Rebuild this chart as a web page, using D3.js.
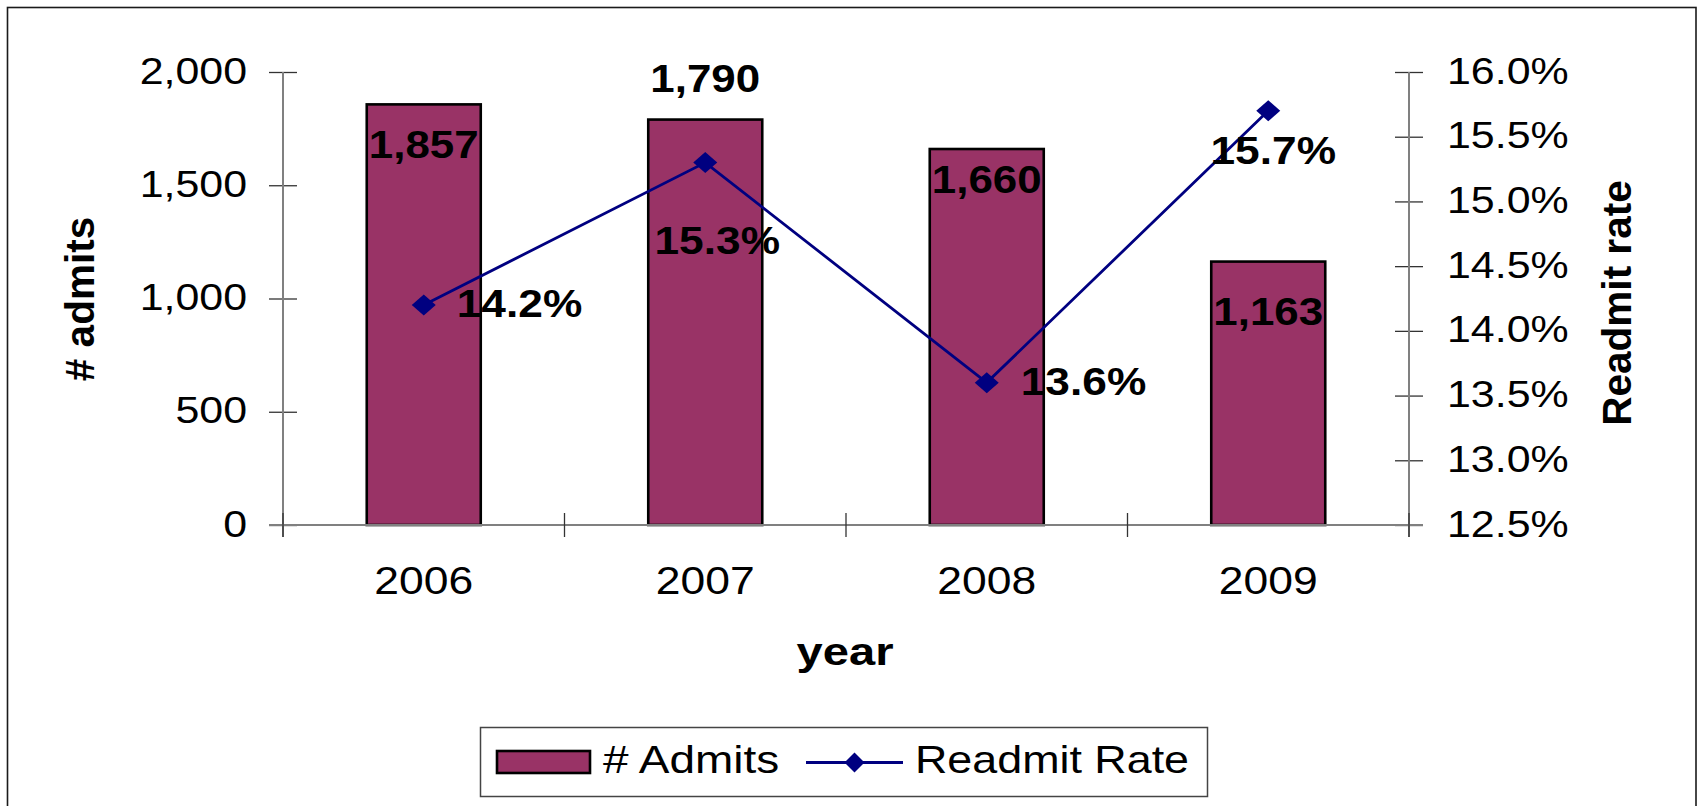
<!DOCTYPE html>
<html>
<head>
<meta charset="utf-8">
<script src="https://cdn.jsdelivr.net/npm/d3@7"></script>
<style>
  html, body { margin: 0; padding: 0; background: #fff; }
  svg { display: block; }
  text { font-family: "Liberation Sans", Arial, Helvetica, sans-serif; fill: #000; }
</style>
</head>
<body>
<svg id="chart" width="1698" height="806"></svg>
<script>
// ---- data ----
const years = ["2006", "2007", "2008", "2009"];
const admits = [1857, 1790, 1660, 1163];
const readmitRate = [0.142, 0.153, 0.136, 0.157];
const admitTicks = [0, 500, 1000, 1500, 2000];
const rateTicks = [0.125, 0.13, 0.135, 0.14, 0.145, 0.15, 0.155, 0.16];

// ---- layout ----
const W = 1698, H = 806;
const plot = { left: 283, right: 1409, top: 72, bottom: 525 };
const barFill = "#993366";
const lineColor = "#000080";
const axisColor = "#808080";
const crossTick = 14;      // value-axis ticks cross the axis line
const catTick = 12;        // category ticks cross the x axis line
const hStretch = 1.16;     // horizontal text width factor

// where each value label sits relative to its bar top (baseline offset)
const admitLabelDy = [54, -28, 44, 63];
// where each rate label sits relative to its marker
const rateLabelPos = [
  { anchor: "start",  dx: 33, dy: 12 },
  { anchor: "middle", dx: 12, dy: 91 },
  { anchor: "start",  dx: 34, dy: 12 },
  { anchor: "middle", dx: 5,  dy: 53 }
];

const svg = d3.select("#chart");

// helper: place a text at (x,y) and widen it horizontally about its anchor
function placeText(sel, x, y, sx) {
  sel.attr("transform", `translate(${x},${y}) scale(${sx},1)`);
  return sel;
}

// chart area border
svg.append("rect")
  .attr("x", 7.5).attr("y", 7.5)
  .attr("width", 1688.5).attr("height", 820)
  .attr("fill", "#fff")
  .attr("stroke", "#1a1a1a").attr("stroke-width", 1.6);

// ---- scales ----
const x = d3.scaleBand()
  .domain(years)
  .range([plot.left, plot.right])
  .paddingInner(0.595)
  .paddingOuter(0.2975);

const yAdmits = d3.scaleLinear().domain([0, 2000]).range([plot.bottom, plot.top]);
const yRate = d3.scaleLinear().domain([0.125, 0.16]).range([plot.bottom, plot.top]);

const fmtCount = d3.format(",");
const fmtPct = d3.format(".1%");

// ---- bars ----
svg.append("g")
  .selectAll("rect")
  .data(years)
  .join("rect")
  .attr("x", d => x(d))
  .attr("y", (d, i) => yAdmits(admits[i]))
  .attr("width", x.bandwidth())
  .attr("height", (d, i) => yAdmits(0) - yAdmits(admits[i]))
  .attr("fill", barFill)
  .attr("stroke", "#000")
  .attr("stroke-width", 2.6);

// ---- axes ----
const axes = svg.append("g");

// left value axis
const leftAxis = axes.append("g")
  .attr("transform", `translate(${plot.left},0)`)
  .call(d3.axisLeft(yAdmits).tickValues(admitTicks).tickFormat(fmtCount).tickSize(crossTick));
leftAxis.select(".domain").remove();
leftAxis.selectAll(".tick line")
  .attr("x1", -crossTick).attr("x2", crossTick)
  .attr("stroke", "#333").attr("stroke-width", 1.3);
leftAxis.selectAll(".tick text").each(function () {
  const t = d3.select(this);
  t.attr("x", null).attr("dy", null)
   .attr("text-anchor", "end")
   .style("font-size", "37px");
  placeText(t, -36, 11, hStretch);
});
axes.append("line")
  .attr("x1", plot.left).attr("x2", plot.left)
  .attr("y1", plot.top).attr("y2", plot.bottom + catTick)
  .attr("stroke", axisColor).attr("stroke-width", 2);

// right value axis
const rightAxis = axes.append("g")
  .attr("transform", `translate(${plot.right},0)`)
  .call(d3.axisRight(yRate).tickValues(rateTicks).tickFormat(fmtPct).tickSize(crossTick));
rightAxis.select(".domain").remove();
rightAxis.selectAll(".tick line")
  .attr("x1", -crossTick).attr("x2", crossTick)
  .attr("stroke", "#333").attr("stroke-width", 1.3);
rightAxis.selectAll(".tick text").each(function () {
  const t = d3.select(this);
  t.attr("x", null).attr("dy", null)
   .attr("text-anchor", "start")
   .style("font-size", "37px");
  placeText(t, 38, 11, hStretch);
});
axes.append("line")
  .attr("x1", plot.right).attr("x2", plot.right)
  .attr("y1", plot.top).attr("y2", plot.bottom + catTick)
  .attr("stroke", axisColor).attr("stroke-width", 2);

// category axis: line, boundary ticks, centred labels
axes.append("line")
  .attr("x1", plot.left - crossTick).attr("x2", plot.right + crossTick)
  .attr("y1", plot.bottom).attr("y2", plot.bottom)
  .attr("stroke", axisColor).attr("stroke-width", 2);

const boundaries = years.map(d => x(d) - x.step() * x.paddingInner() / 2)
  .concat([x(years[years.length - 1]) + x.bandwidth() + x.step() * x.paddingInner() / 2]);
axes.append("g")
  .selectAll("line")
  .data(boundaries)
  .join("line")
  .attr("x1", d => d).attr("x2", d => d)
  .attr("y1", plot.bottom - catTick).attr("y2", plot.bottom + catTick)
  .attr("stroke", "#333").attr("stroke-width", 1.3);

const bottomAxis = axes.append("g")
  .attr("transform", `translate(0,${plot.bottom})`)
  .call(d3.axisBottom(x).tickSize(0));
bottomAxis.select(".domain").remove();
bottomAxis.selectAll(".tick text").each(function () {
  const t = d3.select(this);
  t.attr("y", null).attr("dy", null)
   .attr("text-anchor", "middle")
   .style("font-size", "39px");
  placeText(t, 0, 69, 1.14);
});

// ---- axis titles ----
svg.append("text")
  .attr("text-anchor", "middle")
  .attr("transform", "translate(94,299) rotate(-90)")
  .style("font-size", "40.5px").style("font-weight", "bold")
  .text("# admits");

svg.append("text")
  .attr("text-anchor", "middle")
  .attr("transform", "translate(1631,303) rotate(-90)")
  .style("font-size", "40.5px").style("font-weight", "bold")
  .text("Readmit rate");

placeText(
  svg.append("text")
    .attr("text-anchor", "middle")
    .style("font-size", "38px").style("font-weight", "bold")
    .text("year"),
  845, 665, 1.24);

// ---- readmit rate line ----
const cx = d => x(d) + x.bandwidth() / 2;
const lineGen = d3.line()
  .x((d, i) => cx(years[i]))
  .y(d => yRate(d));

svg.append("path")
  .datum(readmitRate)
  .attr("d", lineGen)
  .attr("fill", "none")
  .attr("stroke", lineColor)
  .attr("stroke-width", 2.8);

const diamond = (hx, hy) => `M0,${-hy}L${hx},0L0,${hy}L${-hx},0Z`;
svg.append("g")
  .selectAll("path")
  .data(readmitRate)
  .join("path")
  .attr("d", diamond(12, 10.5))
  .attr("transform", (d, i) => `translate(${cx(years[i])},${yRate(d)})`)
  .attr("fill", lineColor);

// ---- value labels ----
const labels = svg.append("g")
  .style("font-size", "38.5px").style("font-weight", "bold");

years.forEach((yr, i) => {
  placeText(
    labels.append("text").attr("text-anchor", "middle").text(fmtCount(admits[i])),
    cx(yr), yAdmits(admits[i]) + admitLabelDy[i], 1.14);
});

years.forEach((yr, i) => {
  const p = rateLabelPos[i];
  placeText(
    labels.append("text").attr("text-anchor", p.anchor).text(fmtPct(readmitRate[i])),
    cx(yr) + p.dx, yRate(readmitRate[i]) + p.dy, 1.15);
});

// ---- legend ----
const legend = svg.append("g");
legend.append("rect")
  .attr("x", 480.5).attr("y", 727.5)
  .attr("width", 727).attr("height", 69)
  .attr("fill", "#fff")
  .attr("stroke", "#444").attr("stroke-width", 1.5);

legend.append("rect")
  .attr("x", 497).attr("y", 751)
  .attr("width", 93).attr("height", 22)
  .attr("fill", barFill)
  .attr("stroke", "#000").attr("stroke-width", 2.6);

placeText(
  legend.append("text").style("font-size", "38px").text("# Admits"),
  603, 773, 1.21);

legend.append("line")
  .attr("x1", 806).attr("x2", 903)
  .attr("y1", 762.5).attr("y2", 762.5)
  .attr("stroke", lineColor).attr("stroke-width", 2.8);
legend.append("path")
  .attr("d", diamond(10, 10))
  .attr("transform", "translate(854.5,762.5)")
  .attr("fill", lineColor);

placeText(
  legend.append("text").style("font-size", "38px").text("Readmit Rate"),
  915, 773, 1.18);
</script>
</body>
</html>
